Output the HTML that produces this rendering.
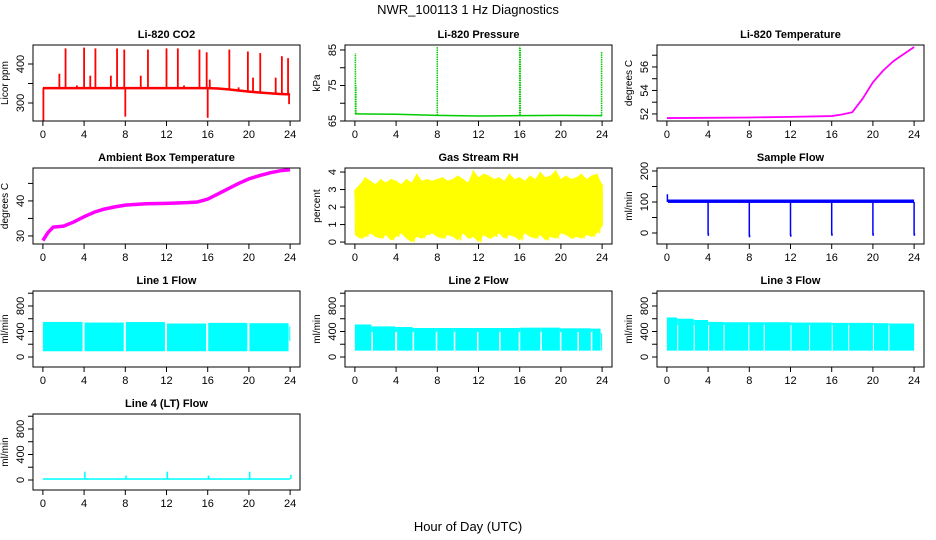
<!DOCTYPE html>
<html><head><meta charset="utf-8"><style>
html,body{margin:0;padding:0;background:#fff;}
svg{display:block;font-family:"Liberation Sans",sans-serif;}
</style></head><body>
<svg id="chart" width="936" height="540" xmlns="http://www.w3.org/2000/svg">
<rect width="936" height="540" fill="#fff"/>
<text x="468" y="14" text-anchor="middle" font-size="13">NWR_100113  1 Hz Diagnostics</text>
<text x="468" y="531" text-anchor="middle" font-size="13">Hour of Day (UTC)</text>
</svg>
<script>
const xTicks=[0,4,8,12,16,20,24];
// CO2
const co2BaseH=[0,4,8,12,16,17,18,19,20,21,22,23,24];
const co2BaseV=[338,338,338,338,338,337,335,332,329,327,325,323,322];
const co2SpikeH=[0.05,1.6,2.2,3.3,4,4.6,5.1,6.6,7.2,7.9,8,9.5,10.2,12,13.1,13.7,15.2,15.9,16,16.2,18.1,19,19.9,20.4,21.1,22.6,23.2,23.8,23.9];
const co2SpikeV=[255,375,440,345,442,370,440,370,440,437,265,370,437,440,440,345,437,430,262,360,437,340,432,365,428,365,420,415,297];
// Pressure
const presBaseH=[0,4,8,12,16,20,24];
const presBaseV=[67,66.9,66.6,66.4,66.5,66.6,66.5];
const presSpikeH=[0.05,0.1,8,16,16.05,23.95];
const presSpikeV=[84,75,86,86,85.5,84.5];
// Li-820 temperature
const tempH=[0,4,8,12,16,17,18,19,20,21,22,23,24];
const tempV=[51.65,51.67,51.7,51.75,51.82,51.95,52.15,53.3,54.7,55.7,56.5,57.1,57.7];
// Ambient box temperature
const ambH=[0,0.5,1,2,3,4,5,6,7,8,10,12,14,15,16,17,18,19,20,21,22,23,24];
const ambV=[28.7,31,32.5,32.8,34,35.5,36.8,37.7,38.3,38.8,39.2,39.3,39.5,39.7,40.5,42,43.5,45,46.3,47.2,48,48.6,48.9];
// RH (half-hour envelope)
const rhHi=[3.0,3.3,3.7,3.5,3.3,3.6,3.4,3.6,3.5,3.3,3.6,3.4,3.9,3.5,3.6,3.5,3.6,3.7,3.5,3.6,3.8,3.6,3.4,4.1,3.7,3.9,3.8,3.6,3.7,3.5,3.9,3.6,3.7,3.5,3.8,3.6,4.0,3.7,3.8,4.1,3.6,3.8,3.6,3.7,3.9,3.6,3.8,3.9,3.3];
const rhLo=[0.4,0.2,0.3,0.5,0.3,0.2,0.4,0.1,0.3,0.5,0.2,0.0,0.3,0.2,0.4,0.5,0.3,0.2,0.4,0.3,0.1,0.5,0.2,0.3,0.0,0.4,0.2,0.3,0.5,0.2,0.4,0.3,0.1,0.5,0.3,0.2,0.4,0.1,0.3,0.2,0.5,0.4,0.2,0.3,0.2,0.4,0.3,0.5,0.9];
// Sample flow
const sfBaseLo=97, sfBaseHi=108, sfStart=125;
const sfDipH=[4,8,12,16,20,24];
const sfDipV=[-5,-10,-8,-5,-5,-5];
// Line flows: segment starts, ends, tops
const l1Start=[0,4.05,8.05,12.05,16.05,20.05,23.92];
const l1End=[3.85,7.85,11.85,15.85,19.85,23.85,24];
const l1Top=[550,540,548,525,535,530,480];
const l1Low=[90,90,90,90,90,90,250];
const l2Start=[0,1.75,4.1,5.75,8.0,9.75,12.0,14.15,16.05,18.15,20.05,21.75,23.05,23.9];
const l2End=[1.6,3.9,5.6,7.85,9.6,11.85,14.0,15.9,18.0,19.9,21.6,22.9,23.85,24];
const l2Top=[510,480,470,455,455,455,455,455,460,460,450,450,445,370];
const l2GapTop=390, l2Low=100;
const l3Start=[0,1.1,2.7,4.1,5.6,8.0,9.5,12.1,13.9,16.1,17.7,20.1,21.6];
const l3End=[1.0,2.6,4.0,5.5,7.9,9.4,12.0,13.8,16.0,17.6,20.0,21.5,24];
const l3Top=[620,600,580,550,545,545,545,540,540,535,535,530,525];
const l3GapTop=500, l3Low=100;
// Line 4
const l4Base=15;
const l4SpikeH=[4,8,12,16,20,24];
const l4SpikeV=[130,70,130,70,130,80];

const NS="http://www.w3.org/2000/svg";
const svg=document.getElementById('chart');
function el(tag,attrs,parent){const e=document.createElementNS(NS,tag);for(const k in attrs)e.setAttribute(k,attrs[k]);(parent||svg).appendChild(e);return e;}
const colLeft=[33,345,657], rowTop=[45,168,291,414], W=267, H=76;
function panel(col,row,title,ytitle,ymin,ymax,ticks,labels,name){
  const L=colLeft[col],T=rowTop[row];
  const g=el('g',{});
  
  
  const sx=h=>L+(h+0.96)*W/25.92;
  const sy=v=>T+H-(v-ymin)/(ymax-ymin)*H;
  const plot=el('g',{},g);
  
  
  const fr=el('rect',{x:L,y:T,width:W,height:H,fill:'none',stroke:'#000','stroke-width':1},g);
  
  
  const t=el('text',{x:L+W/2,y:T-7,'text-anchor':'middle','font-size':11,'font-weight':'bold'},g);
  t.textContent=title;
  
  
  const xa=el('g',{},g);
  
  
  xTicks.forEach(h=>{const x=sx(h);el('line',{x1:x,x2:x,y1:T+H,y2:T+H+5,stroke:'#000'},xa);
    const tx=el('text',{x:x,y:T+H+17,'text-anchor':'middle','font-size':11},xa);tx.textContent=h;});
  const ya=el('g',{},g);
  
  
  el('line',{x1:L,x2:L,y1:sy(ticks[0]),y2:sy(ticks[ticks.length-1]),stroke:'#000'},ya);
  ticks.forEach(v=>{const y=sy(v);el('line',{x1:L-5,x2:L,y1:y,y2:y,stroke:'#000'},ya);});
  labels.forEach(v=>{const y=sy(v);const tx=el('text',{x:L-9,y:y,'text-anchor':'middle','font-size':11,transform:`rotate(-90 ${L-9} ${y})`},ya);tx.textContent=v;});
  const yt=el('text',{x:L-25,y:T+H/2,'text-anchor':'middle','font-size':10,transform:`rotate(-90 ${L-25} ${T+H/2})`},g);
  yt.textContent=ytitle;
  
  
  return {sx,sy,plot};
}
function poly(p,H_,V_,color,w){return el('polyline',{points:H_.map((h,i)=>p.sx(h)+','+p.sy(V_[i])).join(' '),fill:'none',stroke:color,'stroke-width':w},p.plot);}
function vline(p,h,v0,v1,color,w,dash){const a={x1:p.sx(h),x2:p.sx(h),y1:p.sy(v0),y2:p.sy(v1),stroke:color,'stroke-width':w};if(dash)a['stroke-dasharray']=dash;return el('line',a,p.plot);}
function rectV(p,h0,h1,v0,v1,color){return el('rect',{x:p.sx(h0),y:p.sy(v1),width:Math.max(1,p.sx(h1)-p.sx(h0)),height:Math.max(1,p.sy(v0)-p.sy(v1)),fill:color},p.plot);}
function interp(H_,V_,h){for(let i=1;i<H_.length;i++){if(h<=H_[i]){const f=(h-H_[i-1])/(H_[i]-H_[i-1]);return V_[i-1]+f*(V_[i]-V_[i-1]);}}return V_[V_.length-1];}

// CO2
let p=panel(0,0,'Li-820 CO2','Licor ppm',253.8,448.7,[300,350,400],[300,400],'co2');
poly(p,co2BaseH,co2BaseV,'#f00',2.5);
co2SpikeH.forEach((h,i)=>vline(p,h,interp(co2BaseH,co2BaseV,h),co2SpikeV[i],'#f00',1.8));
// Pressure
p=panel(1,0,'Li-820 Pressure','kPa',65.0,86.4,[65,70,75,80,85],[65,75,85],'pressure');
poly(p,presBaseH,presBaseV,'#0c0',1.5);
presSpikeH.forEach((h,i)=>vline(p,h,interp(presBaseH,presBaseV,h),presSpikeV[i],'#0c0',1.5,'1.5,0.8'));
// Temperature
p=panel(2,0,'Li-820 Temperature','degrees C',51.4,57.87,[52,53,54,55,56,57],[52,54,56],'li820-temp');
poly(p,tempH,tempV,'#f0f',1.8);
// Ambient
p=panel(0,1,'Ambient Box Temperature','degrees C',27.7,49.4,[30,35,40,45],[30,40],'ambient-temp');
poly(p,ambH,ambV,'#f0f',3.5);
// RH
p=panel(1,1,'Gas Stream RH','percent',-0.11,4.23,[0,1,2,3,4],[0,1,2,3,4],'rh');
{const hs=rhHi.map((_,i)=>i*0.5);
 const pts=hs.map((h,i)=>p.sx(h)+','+p.sy(rhHi[i])).concat(hs.slice().reverse().map((h,j)=>p.sx(h)+','+p.sy(rhLo[rhLo.length-1-j])));
 el('polygon',{points:pts.join(' '),fill:'#ff0'},p.plot);
 const zz=[];hs.forEach((h,i)=>{zz.push(p.sx(h)+','+p.sy(rhHi[i]));zz.push(p.sx(Math.min(24,h+0.25))+','+p.sy(rhLo[i]));});
 el('polyline',{points:zz.join(' '),fill:'none',stroke:'#ff0','stroke-width':1.5},p.plot);
 rectV(p,0,24,0.9,3.0,'#ff0');}
// Sample flow
p=panel(2,1,'Sample Flow','ml/min',-35.5,209.7,[0,50,100,150,200],[0,100,200],'sample-flow');
rectV(p,0.1,24,sfBaseLo,sfBaseHi,'#00f');
vline(p,0.05,100,sfStart,'#00f',1.5);
sfDipH.forEach((h,i)=>{vline(p,h,100,sfDipV[i],'#00f',1.5);rectV(p,h-0.05,h+0.1,sfDipV[i]-4,sfDipV[i]+4,'#00f');});
// Line flows
const flowTicks=[0,200,400,600,800,1000], flowLabels=[0,400,800];
p=panel(0,2,'Line 1 Flow','ml/min',-157,1035,flowTicks,flowLabels,'line1-flow');
l1Start.forEach((s,i)=>rectV(p,s,l1End[i],l1Low[i],l1Top[i],'#0ff'));
p=panel(1,2,'Line 2 Flow','ml/min',-157,1035,flowTicks,flowLabels,'line2-flow');
l2Start.forEach((s,i)=>{rectV(p,s,l2End[i],l2Low,l2Top[i],'#0ff');if(i<l2Start.length-1)rectV(p,l2End[i],l2Start[i+1],l2GapTop,Math.min(l2Top[i],l2Top[i+1]),'#0ff');});
p=panel(2,2,'Line 3 Flow','ml/min',-157,1035,flowTicks,flowLabels,'line3-flow');
l3Start.forEach((s,i)=>{rectV(p,s,l3End[i],l3Low,l3Top[i],'#0ff');if(i<l3Start.length-1)rectV(p,l3End[i],l3Start[i+1],l3GapTop,Math.min(l3Top[i],l3Top[i+1]),'#0ff');});
p=panel(0,3,'Line 4 (LT) Flow','ml/min',-157,1035,flowTicks,flowLabels,'line4-flow');
rectV(p,0,24,l4Base-12,l4Base+12,'#0ff');
l4SpikeH.forEach((h,i)=>rectV(p,h,h+0.15,l4Base,l4SpikeV[i],'#0ff'));
</script>
</body></html>
